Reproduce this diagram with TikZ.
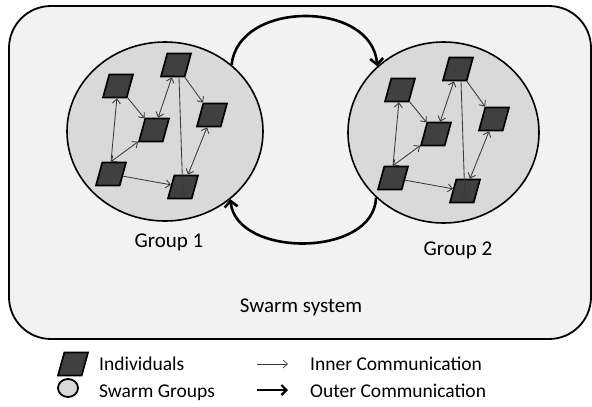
\documentclass[tikz,border=0pt]{standalone}
\usepackage{fontspec}
\setmainfont{Carlito}
\usetikzlibrary{shapes.geometric,arrows.meta}
\definecolor{bgfill}{HTML}{F2F2F2}
\definecolor{grpfill}{HTML}{D9D9D9}
\definecolor{indfill}{HTML}{404040}
\definecolor{arrgray}{HTML}{3A3A3A}
\newcommand{\swarmgrp}[3]{%
  \begin{scope}[shift={(#2,#3)}]
    \node[indiv] (#1A) at (118,86) {};
    \node[indiv] (#1B) at (176,65) {};
    \node[indiv] (#1C) at (154,130) {};
    \node[indiv] (#1D) at (212,115) {};
    \node[indiv] (#1E) at (111,174) {};
    \node[indiv] (#1F) at (183,187) {};
    \draw[inner] (#1A) -- (#1C);
    \draw[innerb] (#1B) -- (#1C);
    \draw[inner] (#1E.north) -- (#1A);
    \draw[innerb] (#1E.north) -- (#1C);
    \draw[inner] (#1E) -- (#1F);
    \draw[inner] (#1B) -- (#1D);
    \draw[innerb] (#1D) -- (#1F);
    \draw[inner] ([xshift=3pt]#1B.south) -- ([yshift=2pt]#1F.south);
  \end{scope}}
\begin{document}
\begin{tikzpicture}[x=1pt,y=-1pt,
  indiv/.style={trapezium, trapezium left angle=70, trapezium right angle=110,
    trapezium stretches=true, minimum width=30pt, minimum height=23pt,
    inner sep=1pt, fill=indfill, draw=black, line width=1.7pt},
  grp/.style={ellipse, fill=grpfill, draw=black, line width=1.6pt, inner sep=0pt},
  inner/.style={draw=arrgray, line width=0.85pt, -{Straight Barb[length=4.5pt,width=8pt]}},
  innerb/.style={inner, {Straight Barb[length=4.5pt,width=8pt]}-{Straight Barb[length=4.5pt,width=8pt]}},
  outer/.style={draw=black, line width=2.6pt, -{Straight Barb[length=6pt,width=13pt]}},
  lbl/.style={font=\fontsize{21}{25}\selectfont, inner sep=0pt, text=black},
  leg/.style={font=\fontsize{19.5}{23}\selectfont, inner sep=0pt, text=black}
]
\useasboundingbox (0,0) rectangle (592,407);
\fill[white] (0,0) rectangle (592,407);
\draw[fill=bgfill, line width=1.8pt, rounded corners=42pt] (9,6) rectangle (591,339);

\node[grp, minimum width=196pt, minimum height=179pt] (g1) at (165,131.5) {};
\node[grp, minimum width=191pt, minimum height=181pt] (g2) at (443.5,132.5) {};

\swarmgrp{p}{0}{0}
\swarmgrp{q}{282}{4}

\draw[outer] (g1.45) .. controls (238,0) and (372,0) .. (g2.135);
\draw[outer] (g2.224) .. controls (374,258) and (236,258) .. (g1.314);

\node[lbl, anchor=base] (t1) at (169,247) {Group 1};
\node[lbl, anchor=base] (t2) at (458,255) {Group 2};
\node[lbl, anchor=base] (t3) at (301,312) {Swarm system};

% legend
\node[indiv] (lind) at (73,364) {};
\node[grp, minimum width=20pt, minimum height=18pt, line width=1.8pt] (lgrp) at (68,388) {};
\node[leg, anchor=base west] (lt1) at (99,370) {Individuals};
\node[leg, anchor=base west] (lt2) at (99,397) {Swarm Groups};
\coordinate (la1) at (257,364);
\coordinate (la2) at (288,364);
\coordinate (lb1) at (257,390);
\coordinate (lb2) at (288,390);
\draw[inner, line width=0.7pt] (la1) -- (la2);
\draw[outer, line width=2.2pt, -{Straight Barb[length=5pt,width=10pt]}] (lb1) -- (lb2);
\node[leg, anchor=base west] (lt3) at (310,370) {Inner Communication};
\node[leg, anchor=base west] (lt4) at (310,397) {Outer Communication};
\end{tikzpicture}
\end{document}
